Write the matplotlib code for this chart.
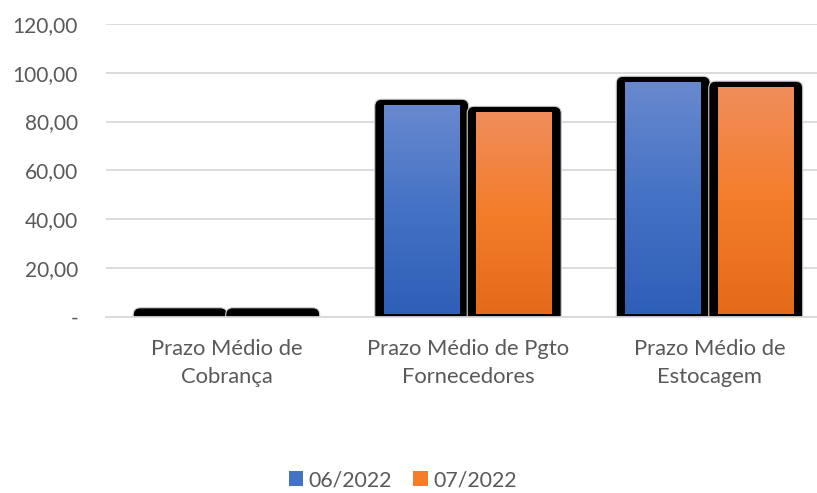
import numpy as np
import matplotlib
matplotlib.use("Agg")
import matplotlib.pyplot as plt
from matplotlib.patches import FancyBboxPatch, Patch
from matplotlib.colors import LinearSegmentedColormap

# ---------------- data ----------------
categories = ["Prazo Médio de\nCobrança",
              "Prazo Médio de Pgto\nFornecedores",
              "Prazo Médio de\nEstocagem"]
series_names = ["06/2022", "07/2022"]
values_06 = [1.0, 86.5, 95.9]
values_07 = [1.0, 83.6, 93.9]
y_ticks = [0, 20, 40, 60, 80, 100, 120]
y_tick_labels = ["-", "20,00", "40,00", "60,00", "80,00", "100,00", "120,00"]

# ---------------- style ----------------
plt.rcParams["font.family"] = ["Lato", "DejaVu Sans"]
TEXT = "#595959"
GRID = "#d9d9d9"
grad_06 = ["#6889cf", "#4472c4", "#2e5fb8"]
grad_07 = ["#f08d5c", "#f47d2a", "#e36a19"]
legend_06 = "#4472c4"
legend_07 = "#f47d2a"

W, H, DPI = 8.17, 4.93, 100
fig = plt.figure(figsize=(W, H), dpi=DPI)
pos = [0.1294, 0.3576, 0.8868, 0.5937]
ax = fig.add_axes(pos)
xmin, xmax, ymin, ymax = -0.5, 2.5, 0, 120

ax_w_px = pos[2] * W * DPI
ax_h_px = pos[3] * H * DPI
xpx = (xmax - xmin) / ax_w_px   # data units per pixel (x)
ypx = (ymax - ymin) / ax_h_px   # data units per pixel (y)

half_gap = 46.25 * xpx
bar_w = 76 * xpx
side = 9 * xpx
top_extra = 6.5 * ypx
bottom_inset = 2.6 * ypx
rnd = 7 * xpx


def draw_series(values, sign, colors, z):
    cmap = LinearSegmentedColormap.from_list("g", colors)
    grad = np.linspace(0, 1, 256).reshape(-1, 1)
    for i, v in enumerate(values):
        c = i + sign * half_gap
        x0 = c - bar_w / 2 - side
        bw = bar_w + 2 * side
        below = 3 * rnd * (ypx / xpx)
        blk = FancyBboxPatch((x0, -below), bw, v + top_extra + below,
                             boxstyle=f"round,pad=0,rounding_size={rnd}",
                             mutation_aspect=ypx / xpx,
                             fc="black", ec="#cfcfcf", lw=0.8, zorder=z)
        ax.add_patch(blk)
        if v > bottom_inset:
            ax.imshow(grad, cmap=cmap, aspect="auto", interpolation="bilinear",
                      extent=[c - bar_w / 2, c + bar_w / 2, bottom_inset, v],
                      zorder=z + 0.1)


draw_series(values_06, -1, grad_06, 2)
draw_series(values_07, +1, grad_07, 3)

ax.set_xlim(xmin, xmax)
ax.set_ylim(ymin, ymax)
ax.set_yticks(y_ticks, y_tick_labels)
ax.set_xticks(range(len(categories)), categories)
ax.yaxis.grid(True, color=GRID, lw=1.3, zorder=0.5)
ax.set_axisbelow(True)
for s in ["left", "right", "top"]:
    ax.spines[s].set_visible(False)
ax.spines["bottom"].set_color(GRID)
ax.spines["bottom"].set_linewidth(1.3)
ax.spines["bottom"].set_zorder(5)
ax.tick_params(axis="y", length=0, pad=20, labelsize=15, labelcolor=TEXT)
ax.tick_params(axis="x", length=0, pad=16, labelsize=15.8, labelcolor=TEXT)
for t in ax.get_xticklabels():
    t.set_linespacing(1.5)

handles = [Patch(fc=legend_06, ec="none"), Patch(fc=legend_07, ec="none")]
fig.legend(handles, series_names, loc="center", bbox_to_anchor=(0.493, 0.026),
           ncol=2, frameon=False, fontsize=15.3, labelcolor=TEXT,
           handlelength=0.7, handleheight=0.7, handletextpad=0.25,
           columnspacing=1.0, borderpad=0.2)

fig.savefig("out.png", dpi=DPI)
